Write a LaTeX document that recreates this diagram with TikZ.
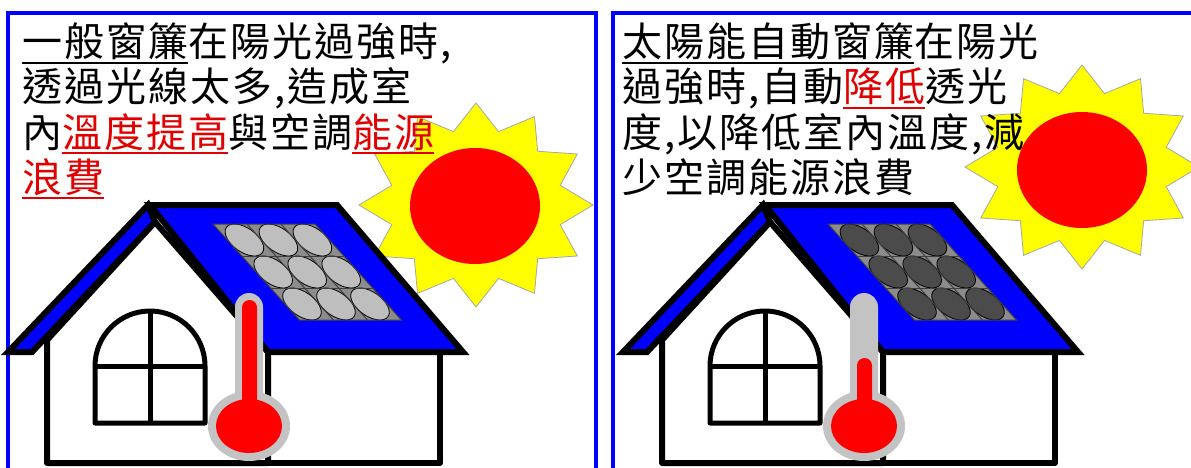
\documentclass[tikz,border=0pt]{standalone}
\usepackage{fontspec}
\newfontfamily\cjk[LetterSpace=5]{Noto Sans CJK TC}
\usetikzlibrary{positioning}

\definecolor{roofblue}{RGB}{0,0,255}
\definecolor{sunred}{RGB}{255,0,0}
\definecolor{sunyellow}{RGB}{255,255,0}
\definecolor{txtred}{RGB}{225,0,0}
\definecolor{cellgray}{RGB}{190,190,190}
\definecolor{celldark}{RGB}{75,75,75}
\definecolor{panelgray}{RGB}{140,140,140}
\definecolor{tubegray}{RGB}{195,195,195}

\tikzstyle{txtLine} = [anchor=base west, inner sep=0pt, font=\cjk\fontsize{40}{45}\selectfont]
\tikzstyle{frameB} = [draw=roofblue, line width=4]
\tikzstyle{wall} = [draw=black, fill=white, line width=6, line join=round]
\tikzstyle{roof} = [draw=black, fill=roofblue, line width=6, line join=miter]
\tikzstyle{winLine} = [draw=black, line width=5, line join=round]
\tikzstyle{cellOval} = [draw=black, line width=0.8]
\tikzstyle{panelLine} = [draw=black!75, line width=1]
\tikzstyle{sunRay} = [draw=black!35, fill=sunyellow, line width=0.8]

% underlined words
\newsavebox{\ulbox}
\newcommand{\ulined}[1]{\sbox{\ulbox}{#1}\rlap{\rule[-7pt]{\wd\ulbox}{1.8pt}}\usebox{\ulbox}}
\newcommand{\redul}[1]{{\color{txtred}\ulined{#1}}}

% star and disc: #1,#2 star centre, #3,#4 disc centre
\newcommand{\drawsun}[4]{%
  \draw[sunRay, shift={(#1,#2)}] (90:117 and 102)
    \foreach \k [evaluate=\k as \rr using {1-0.255*mod(\k,2)}] in {1,...,23} { -- ({90+15*\k}:{117*\rr} and {102*\rr}) } -- cycle;
  \fill[sunred] (#3,#4) ellipse [x radius=65, y radius=58];
}

% house: #1 shift, #2 cell colour, #3 top of the red column
\newcommand{\drawhouse}[3]{%
  \begin{scope}[xshift=#1]
    % walls
    \draw[wall] (268,352) rectangle (440,463);
    \draw[wall] (47,463) -- (47,340) -- (155,222) -- (268,352) -- (268,463) -- cycle;
    % roof
    \draw[roof] (148,205) -- (8,352) -- (32,352) -- (155,222) -- cycle;
    \draw[roof] (150,205) -- (337,205) -- (463,352) -- (268,352) -- cycle;
    % solar panel
    \fill[panelgray] (213,224) -- (315,224) -- (401.4,320) -- (299.4,320) -- cycle;
    \foreach \i in {0,1,2} \foreach \j in {0,1,2} {
      \pgfmathsetmacro{\cx}{213+34*(\i+0.5)+28.8*(\j+0.5)}
      \pgfmathsetmacro{\cy}{224+32*(\j+0.5)}
      \draw[cellOval, fill=#2, rotate around={-35:(\cx,\cy)}] (\cx,\cy) ellipse [x radius=22, y radius=12];
    }
    \foreach \k in {1,2} {
      \draw[panelLine] ({213+34*\k},224) -- ({299.4+34*\k},320);
      \draw[panelLine] ({213+28.8*\k},{224+32*\k}) -- ({315+28.8*\k},{224+32*\k});
    }
    \draw[panelLine] (213,224) -- (315,224) -- (401.4,320) -- (299.4,320) -- cycle;
    % window
    \draw[winLine] (95,366) -- (95,423) -- (205,423) -- (205,366) arc[start angle=0, end angle=-180, radius=55] -- cycle;
    \draw[winLine] (95,366) -- (205,366) (150,311) -- (150,423);
    % thermometer
    \fill[tubegray, rounded corners=14] (235,420) rectangle (263,293);
    \fill[tubegray] (249,426) ellipse [x radius=41, y radius=35];
    \fill[sunred, rounded corners=7.5] (242,420) rectangle (257,#3);
    \fill[sunred] (249,426) ellipse [x radius=33, y radius=27];
  \end{scope}
}

\begin{document}
\begin{tikzpicture}[x=1pt, y=-1pt]
    \useasboundingbox (0,0) rectangle (1191,468);
    \clip (0,0) rectangle (1191,468);

    % frames
    \draw[frameB] (8,13) rectangle (596,480);
    \draw[frameB] (613,13) rectangle (1200,480);

    \drawsun{476}{205}{475}{206}
    \drawsun{1082}{167}{1082}{170}

    \drawhouse{0}{cellgray}{300}
    \drawhouse{615}{celldark}{358}

    % ordinary curtain
    \node (a1) [txtLine] at (22,57) {\ulined{一般窗簾}在陽光過強時,};
    \node (a2) [txtLine, below=45pt of a1.base west, anchor=base west] {透過光線太多,造成室};
    \node (a3) [txtLine, below=45pt of a2.base west, anchor=base west] {內\redul{溫度提高}與空調\redul{能源}};
    \node (a4) [txtLine, below=45pt of a3.base west, anchor=base west] {\redul{浪費}};

    % solar curtain
    \node (b1) [txtLine] at (622,57) {\ulined{太陽能自動窗簾}在陽光};
    \node (b2) [txtLine, below=45pt of b1.base west, anchor=base west] {過強時,自動\redul{降低}透光};
    \node (b3) [txtLine, below=45pt of b2.base west, anchor=base west] {度,以降低室內溫度,減};
    \node (b4) [txtLine, below=45pt of b3.base west, anchor=base west] {少空調能源浪費};
\end{tikzpicture}
\end{document}
